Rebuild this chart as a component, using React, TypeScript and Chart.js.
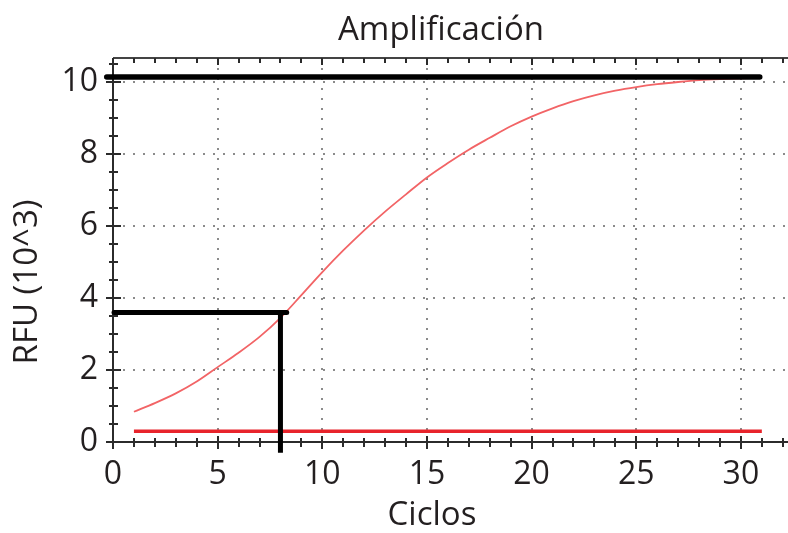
import React, { useEffect, useRef } from "react";
import { Chart, registerables } from "chart.js";

Chart.register(...registerables);

// ---- data ----
const cycles = [1, 2, 3, 4, 5, 6, 7, 8, 9, 10, 11, 12, 13, 14, 15, 16, 17, 18, 19, 20, 21, 22, 23, 24, 25, 26, 27, 28, 29, 30, 31];
const rfu = [0.84, 1.08, 1.35, 1.68, 2.08, 2.48, 2.92, 3.45, 4.08, 4.72, 5.32, 5.88, 6.4, 6.88, 7.35, 7.75, 8.12, 8.45, 8.77, 9.04, 9.27, 9.47, 9.63, 9.76, 9.86, 9.94, 10.0, 10.05, 10.08, 10.1, 10.12];
const baselineX = [1, 31];
const baselineY = [0.3, 0.3];
const plateauX = [-0.3, 30.9];
const plateauY = [10.14, 10.14];
const ctLineX = [0.05, 8.3];
const ctLineY = [3.6, 3.6];
const ctDropX = [8, 8];
const ctDropY = [3.6, -0.3];
const xTicks = [0, 5, 10, 15, 20, 25, 30];
const yTicks = [0, 2, 4, 6, 8, 10];

const chartTitle = "Amplificación";
const xTitle = "Ciclos";
const yTitle = "RFU (10^3)";

const FONT = '"Open Sans", "DejaVu Sans", sans-serif';
const TEXT = "#231f20";

const pts = (xs: number[], ys: number[]) => xs.map((v, i) => ({ x: v, y: ys[i] }));

const decor = {
  id: "decor",
  beforeDatasetsDraw(chart: any) {
    const { ctx, chartArea: a, scales } = chart;
    const x = scales.x;
    const y = scales.y;
    ctx.save();
    const line = (x1: number, y1: number, x2: number, y2: number) => {
      ctx.beginPath();
      ctx.moveTo(x1, y1);
      ctx.lineTo(x2, y2);
      ctx.stroke();
    };
    // dotted grid
    ctx.strokeStyle = "rgba(100,100,100,0.75)";
    ctx.lineWidth = 2;
    ctx.setLineDash([2, 8]);
    for (const v of xTicks) {
      if (v === 0) continue;
      const px = Math.round(x.getPixelForValue(v));
      line(px, a.top, px, a.bottom);
    }
    for (const v of yTicks) {
      if (v === 0) continue;
      const py = Math.round(y.getPixelForValue(v));
      line(a.left, py, a.right, py);
    }
    ctx.setLineDash([]);
    // axes
    const x0 = Math.round(a.left);
    const y0 = Math.round(a.bottom);
    const yt = Math.round(a.top);
    ctx.strokeStyle = "#2b2b2b";
    ctx.lineWidth = 2;
    line(x0, yt, x0, y0 + 6);
    line(x0 - 6, y0, a.right, y0);
    ctx.strokeStyle = "#444";
    line(x0, yt, a.right, yt);
    // x ticks (bottom and top)
    ctx.strokeStyle = "#2b2b2b";
    for (let v = 0; v <= Math.floor(x.max); v++) {
      const px = Math.round(x.getPixelForValue(v));
      const major = v % 5 === 0;
      if (major) line(px, y0 - 6, px, y0 + 7);
      else line(px, y0 - 4, px, y0 + 5);
      line(px, yt, px, yt + (major ? 7 : 5));
    }
    // y ticks
    for (let k = 0; k <= Math.floor(y.max * 2); k++) {
      const v = k / 2;
      const py = Math.round(y.getPixelForValue(v));
      const major = v % 2 === 0;
      if (major) line(x0 - 7, py, x0 + 8, py);
      else line(x0 - 4, py, x0 + 5, py);
    }
    ctx.restore();
  },
  afterDraw(chart: any) {
    const { ctx } = chart;
    ctx.save();
    ctx.fillStyle = TEXT;
    ctx.textAlign = "center";
    ctx.textBaseline = "middle";
    ctx.font = `33px ${FONT}`;
    ctx.fillText(chartTitle, 441, 31);
    ctx.font = `33px ${FONT}`;
    ctx.fillText(xTitle, 432, 516);
    ctx.translate(28, 282);
    ctx.rotate(-Math.PI / 2);
    ctx.fillText(yTitle, 0, 0);
    ctx.restore();
  },
};

export default function App() {
  const ref = useRef<HTMLCanvasElement | null>(null);
  useEffect(() => {
    document.body.style.margin = "0";
    const canvas = ref.current;
    if (!canvas) return;
    const chart = new Chart(canvas, {
      type: "line",
      data: {
        datasets: [
          {
            data: pts(plateauX, plateauY),
            borderColor: "#000",
            borderWidth: 5.5,
            borderCapStyle: "round",
            pointRadius: 0,
            clip: false,
          },
          {
            data: pts(ctDropX, ctDropY),
            borderColor: "#000",
            borderWidth: 5,
            borderCapStyle: "butt",
            pointRadius: 0,
            clip: false,
          },
          {
            data: pts(ctLineX, ctLineY),
            borderColor: "#000",
            borderWidth: 5,
            borderCapStyle: "round",
            pointRadius: 0,
            clip: false,
          },
          {
            data: pts(baselineX, baselineY),
            borderColor: "#e8232b",
            borderWidth: 3.5,
            pointRadius: 0,
            clip: false,
          },
          {
            data: pts(cycles, rfu),
            borderColor: "#f26466",
            borderWidth: 1.8,
            pointRadius: 0,
            cubicInterpolationMode: "monotone",
            clip: false,
          },
        ] as any,
      },
      options: {
        responsive: false,
        animation: false,
        devicePixelRatio: 1,
        layout: { padding: { top: 58, right: 0, left: 0, bottom: 0 } },
        plugins: {
          legend: { display: false },
          tooltip: { enabled: false },
          title: { display: false },
        },
        scales: {
          x: {
            type: "linear",
            min: 0,
            max: 32.25,
            grid: { display: false, drawTicks: false },
            border: { display: false },
            afterBuildTicks: (s: any) => {
              s.ticks = xTicks.map((v) => ({ value: v }));
            },
            afterFit: (s: any) => {
              s.height = 91;
            },
            ticks: {
              autoSkip: false,
              maxRotation: 0,
              padding: 14,
              color: TEXT,
              font: { family: FONT, size: 32 },
            },
          },
          y: {
            type: "linear",
            min: 0,
            max: 10.667,
            grid: { display: false, drawTicks: false },
            border: { display: false },
            afterBuildTicks: (s: any) => {
              s.ticks = yTicks.map((v) => ({ value: v }));
            },
            afterFit: (s: any) => {
              s.width = 113;
            },
            ticks: {
              autoSkip: false,
              padding: 15,
              color: TEXT,
              font: { family: FONT, size: 32 },
            },
          },
        },
      } as any,
      plugins: [decor],
    });
    return () => chart.destroy();
  }, []);
  return <canvas ref={ref} width={788} height={533} style={{ display: "block" }} />;
}
